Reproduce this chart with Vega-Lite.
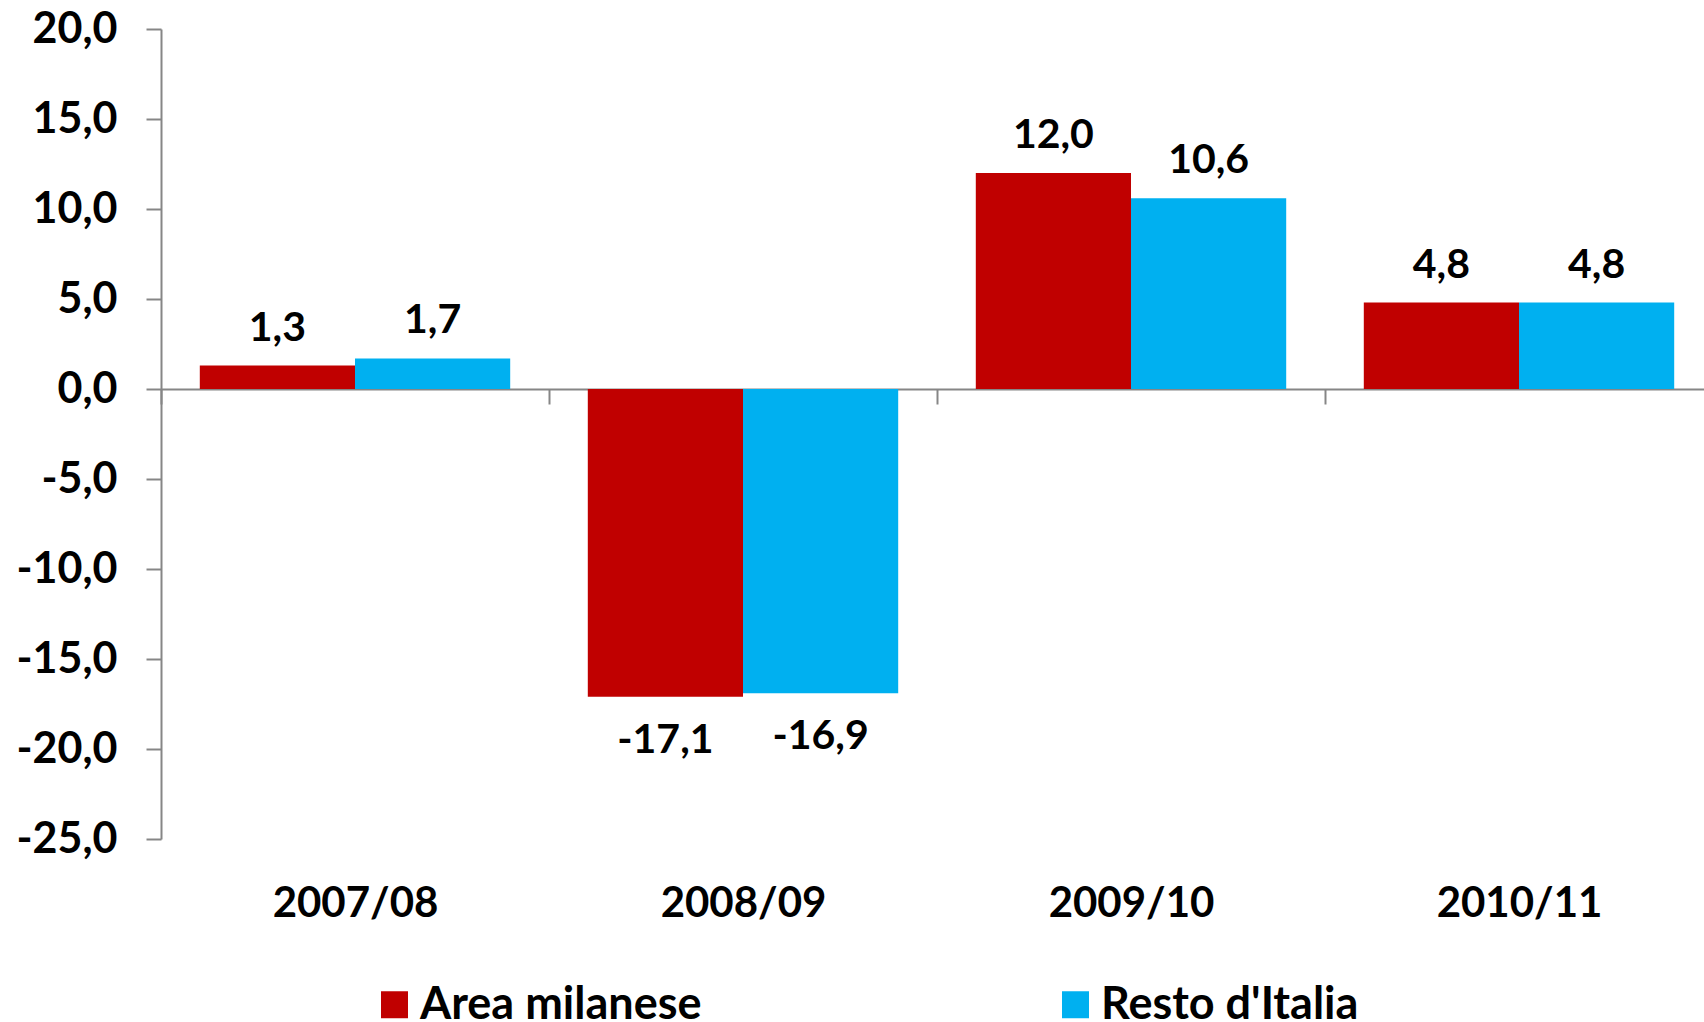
{
  "$schema": "https://vega.github.io/schema/vega-lite/v6.json",
  "width": 1543,
  "height": 810,
  "autosize": {"type": "none"},
  "padding": {"left": 161, "top": 29, "right": 0, "bottom": 183},
  "config": {
    "locale": {"number": {"decimal": ",", "thousands": ".", "grouping": [3], "currency": ["", " €"], "minus": "-"}},
    "view": {"stroke": null},
    "font": "Lato"
  },
  "data": {
    "values": [
      {"periodo": "2007/08", "serie": "Area milanese", "valore": 1.3},
      {"periodo": "2007/08", "serie": "Resto d'Italia", "valore": 1.7},
      {"periodo": "2008/09", "serie": "Area milanese", "valore": -17.1},
      {"periodo": "2008/09", "serie": "Resto d'Italia", "valore": -16.9},
      {"periodo": "2009/10", "serie": "Area milanese", "valore": 12.0},
      {"periodo": "2009/10", "serie": "Resto d'Italia", "valore": 10.6},
      {"periodo": "2010/11", "serie": "Area milanese", "valore": 4.8},
      {"periodo": "2010/11", "serie": "Resto d'Italia", "valore": 4.8}
    ]
  },
  "encoding": {
    "x": {
      "field": "periodo", "type": "nominal", "sort": null,
      "scale": {"range": [0, 1552], "paddingInner": 0.2, "paddingOuter": 0.1},
      "axis": {
        "orient": "bottom", "offset": -450, "title": null, "labelAngle": 0,
        "domainColor": "#868686", "domainWidth": 2,
        "tickColor": "#868686", "tickWidth": 2, "tickSize": 15,
        "tickOffset": -194, "labelOffset": 194,
        "labelPadding": 479, "labelFontSize": 42, "labelFontWeight": "bold", "labelColor": "#000000"
      }
    },
    "xOffset": {"field": "serie", "type": "nominal", "scale": {"paddingInner": 0, "paddingOuter": 0}},
    "y": {
      "field": "valore", "type": "quantitative",
      "scale": {"domain": [-25, 20], "nice": false, "zero": false},
      "axis": {
        "title": null, "grid": false,
        "values": [-25, -20, -15, -10, -5, 0, 5, 10, 15, 20],
        "format": ".1f",
        "domainColor": "#868686", "domainWidth": 2,
        "tickColor": "#868686", "tickWidth": 2, "tickSize": 15,
        "labelPadding": 29, "labelFontSize": 43, "labelFontWeight": "bold", "labelColor": "#000000"
      }
    }
  },
  "layer": [
    {
      "mark": {"type": "bar"},
      "encoding": {
        "color": {
          "field": "serie", "type": "nominal",
          "scale": {"domain": ["Area milanese", "Resto d'Italia"], "range": ["#C00000", "#00B0F0"]},
          "legend": {
            "orient": "none", "legendX": 211, "legendY": 953, "direction": "horizontal",
            "title": null, "symbolType": "square", "symbolSize": 729, "symbolStrokeWidth": 0,
            "labelFontSize": 45, "labelFontWeight": "bold", "labelColor": "#000000",
            "labelOffset": 3, "columnPadding": 351, "labelLimit": 600
          }
        }
      }
    },
    {
      "transform": [{"filter": "datum.valore >= 0"}],
      "mark": {"type": "text", "fontSize": 41, "fontWeight": "bold", "baseline": "middle", "dy": -37, "color": "#000000"},
      "encoding": {"text": {"field": "valore", "type": "quantitative", "format": ".1f"}}
    },
    {
      "transform": [{"filter": "datum.valore < 0"}],
      "mark": {"type": "text", "fontSize": 41, "fontWeight": "bold", "baseline": "middle", "dy": 44, "color": "#000000"},
      "encoding": {"text": {"field": "valore", "type": "quantitative", "format": ".1f"}}
    }
  ]
}
